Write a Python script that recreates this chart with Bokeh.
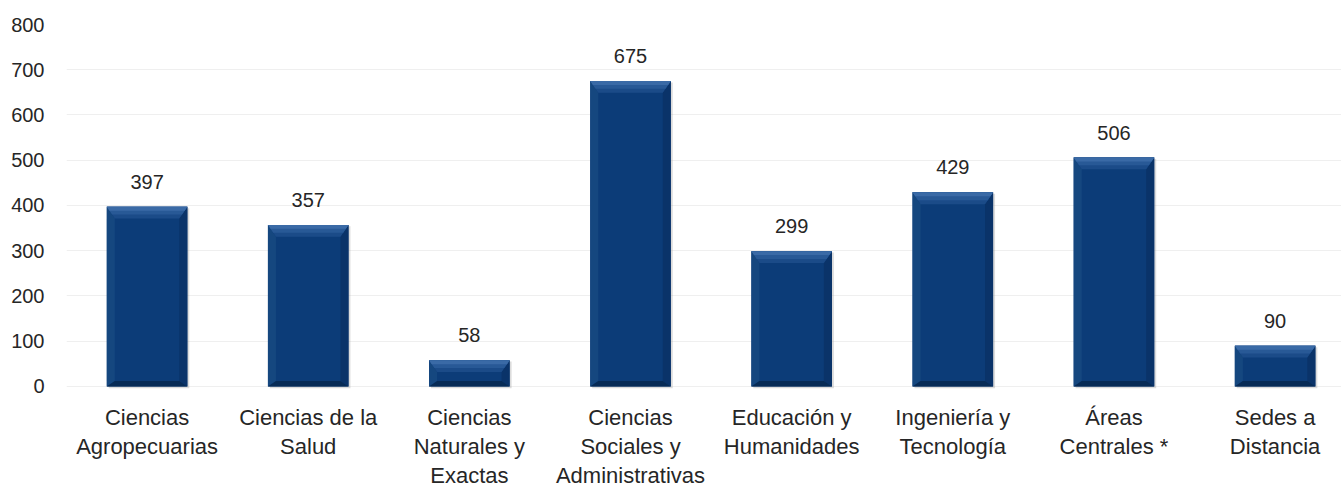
from bokeh.plotting import figure
from bokeh.models import ColumnDataSource, Range1d, FixedTicker
from bokeh.core.properties import value
from bokeh.embed import file_html
from bokeh.resources import INLINE

# ---- data ----
categories = [
    "Ciencias\nAgropecuarias",
    "Ciencias de la\nSalud",
    "Ciencias\nNaturales y\nExactas",
    "Ciencias\nSociales y\nAdministrativas",
    "Educación y\nHumanidades",
    "Ingeniería y\nTecnología",
    "Áreas\nCentrales *",
    "Sedes a\nDistancia",
]
values = [397, 357, 58, 675, 299, 429, 506, 90]
y_ticks = [0, 100, 200, 300, 400, 500, 600, 700, 800]

FONT = "Liberation Sans"
TXT = "#262626"

xs = list(range(len(values)))
W = 0.5          # bar width (data units)
DX = 0.05        # side bevel width
DYT = 26.0       # top bevel height
DYB = 12.0       # bottom bevel height

# frame runs down to the figure bottom so the category labels can sit below 0
p = figure(width=1341, height=485, output_backend="svg", toolbar_location=None,
           x_range=Range1d(-0.5, 7.412), y_range=Range1d(-218.8, 800),
           min_border_left=66, min_border_right=0, min_border_top=24,
           min_border_bottom=0)
p.outline_line_color = None
p.background_fill_color = "white"
p.border_fill_color = "white"

# grid
p.xgrid.visible = False
p.ygrid.ticker = FixedTicker(ticks=y_ticks)
p.ygrid.grid_line_color = "#efefef"
p.ygrid.grid_line_width = 1

# shadow
shadow = ColumnDataSource(dict(x=[x + 0.012 for x in xs], top=[v - 3 for v in values],
                               bottom=[-4] * len(values)))
p.vbar(x="x", top="top", bottom="bottom", width=W, source=shadow,
       fill_color="#9a9a9a", fill_alpha=0.35, line_color=None)

# main bars
src = ColumnDataSource(dict(x=xs, top=values))
p.vbar(x="x", top="top", bottom=0, width=W, source=src,
       fill_color="#0c3c78", line_color=None)

# bevels
def bevel(fn):
    return [fn(x, v) for x, v in zip(xs, values)]

def top_band(frac):
    bx = bevel(lambda x, v: [x - W/2, x + W/2, x + W/2 - DX*frac, x - W/2 + DX*frac])
    by = bevel(lambda x, v: [v, v, v - DYT*frac, v - DYT*frac])
    return bx, by

left_xs = bevel(lambda x, v: [x - W/2, x - W/2 + DX, x - W/2 + DX, x - W/2])
left_ys = bevel(lambda x, v: [v, v - DYT, DYB, 0])
right_xs = bevel(lambda x, v: [x + W/2, x + W/2 - DX, x + W/2 - DX, x + W/2])
right_ys = left_ys
bot_xs = bevel(lambda x, v: [x - W/2, x + W/2, x + W/2 - DX, x - W/2 + DX])
bot_ys = bevel(lambda x, v: [0, 0, DYB, DYB])

p.patches(left_xs, left_ys, fill_color="#15477f", line_color=None)
p.patches(right_xs, right_ys, fill_color="#0a3369", line_color=None)
p.patches(bot_xs, bot_ys, fill_color="#072b56", line_color=None)
for frac, col in [(1.0, "#1b4b88"), (0.66, "#285996"), (0.33, "#3a6aa6")]:
    bx, by = top_band(frac)
    p.patches(bx, by, fill_color=col, line_color=None)

# value labels
lab = ColumnDataSource(dict(x=xs, y=values, t=[str(v) for v in values]))
p.text(x="x", y="y", text="t", source=lab, text_align="center",
       text_baseline="middle", y_offset=-25, text_font=value(FONT),
       text_font_size="20px", text_color=TXT)

# category labels under each bar, positioned through the x scale
cat_src = ColumnDataSource(dict(x=xs, y=[0] * len(xs), t=categories))
p.text(x="x", y="y", text="t", source=cat_src, text_align="center",
       text_baseline="top", y_offset=19, text_font=value(FONT),
       text_font_size="22px", text_color=TXT, text_line_height=1.15)
p.xaxis.visible = False

p.yaxis.ticker = FixedTicker(ticks=y_ticks)
p.yaxis.axis_line_color = None
p.yaxis.major_tick_line_color = None
p.yaxis.minor_tick_line_color = None
p.yaxis.major_label_text_font = FONT
p.yaxis.major_label_text_font_size = "20px"
p.yaxis.major_label_text_color = TXT
p.yaxis.major_label_standoff = 16

open("out.html", "w").write(file_html(p, INLINE))
